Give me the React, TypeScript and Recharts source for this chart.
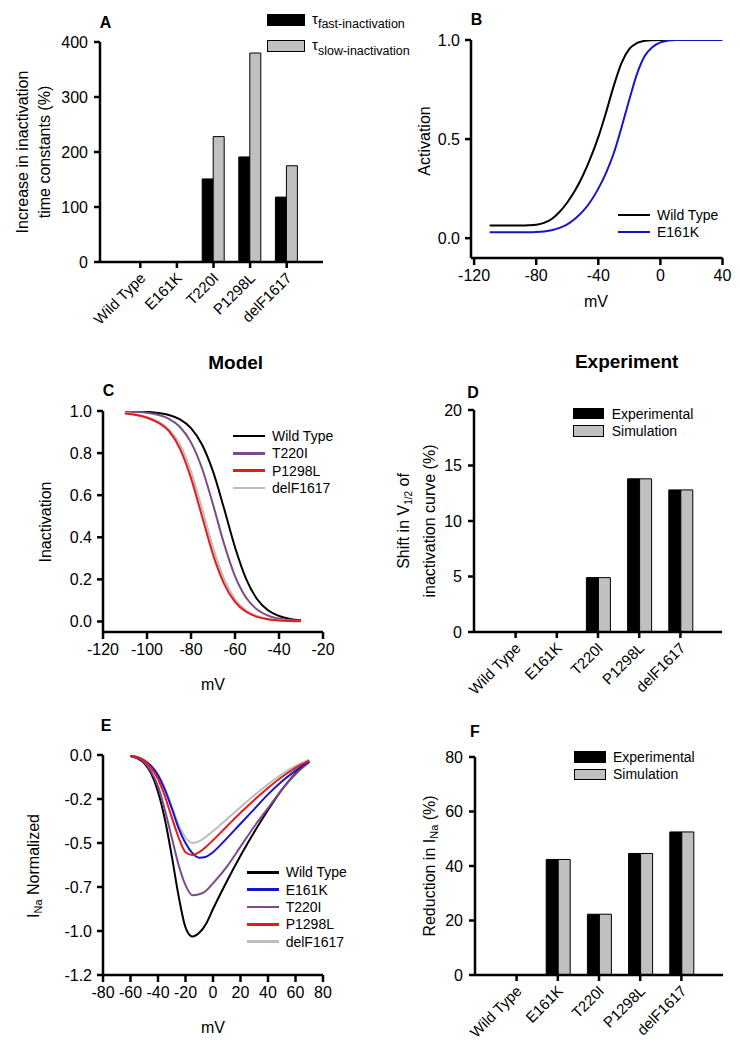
import React from "react";
import { Bar, BarChart, Line, LineChart, XAxis, YAxis } from "recharts";

const FONT = '"Liberation Sans", Arial, Helvetica, sans-serif';

const mutants = ["Wild Type", "E161K", "T220I", "P1298L", "delF1617"];

// A: increase in inactivation time constants (%)
const tauFast = [0, 0, 151, 191, 118];
const tauSlow = [0, 0, 228, 380, 175];
const tauTicks = [0, 100, 200, 300, 400];

// B: activation curves
const actMv = [-110, -105, -100, -95, -90, -85, -80, -75, -70, -65, -60, -55, -50, -45, -40, -35, -30, -25, -20, -15, -10, -5, 0, 5, 10, 15, 20, 25, 30, 35, 40];
const actWt = [0.064, 0.064, 0.064, 0.064, 0.064, 0.065, 0.068, 0.077, 0.097, 0.132, 0.18, 0.24, 0.315, 0.405, 0.51, 0.635, 0.77, 0.885, 0.955, 0.985, 0.996, 0.999, 1, 1, 1, 1, 1, 1, 1, 1, 1];
const actE161k = [0.03, 0.03, 0.03, 0.03, 0.03, 0.03, 0.031, 0.034, 0.04, 0.052, 0.07, 0.098, 0.135, 0.185, 0.25, 0.33, 0.43, 0.56, 0.7, 0.83, 0.92, 0.965, 0.988, 0.997, 1, 1, 1, 1, 1, 1, 1];
const actXTicks = [-120, -80, -40, 0, 40];
const actYTicks = [0, 0.5, 1];

// C: steady-state inactivation (model)
const inactMv = [-110, -105, -100, -95, -90, -85, -80, -75, -70, -65, -60, -55, -50, -45, -40, -35, -30];
const inactWt = [0.999, 0.998, 0.996, 0.991, 0.981, 0.96, 0.919, 0.841, 0.713, 0.538, 0.353, 0.204, 0.107, 0.053, 0.026, 0.012, 0.006];
const inactT220i = [0.998, 0.996, 0.992, 0.982, 0.963, 0.924, 0.851, 0.728, 0.556, 0.37, 0.216, 0.114, 0.057, 0.028, 0.013, 0.006, 0.003];
const inactP1298l = [0.988, 0.981, 0.968, 0.945, 0.904, 0.82, 0.681, 0.5, 0.319, 0.18, 0.093, 0.046, 0.022, 0.011, 0.005, 0.002, 0.001];
const inactDelf = [0.99, 0.984, 0.972, 0.951, 0.912, 0.841, 0.713, 0.538, 0.353, 0.204, 0.107, 0.053, 0.026, 0.012, 0.006, 0.003, 0.002];
const inactXTicks = [-120, -100, -80, -60, -40, -20];
const inactYTicks = [0, 0.2, 0.4, 0.6, 0.8, 1];

// D: shift in V1/2 of inactivation (%)
const shiftExp = [0, 0, 4.9, 13.8, 12.8];
const shiftSim = [0, 0, 4.9, 13.8, 12.8];
const shiftTicks = [0, 5, 10, 15, 20];

// E: normalized I-V curves
const inaMv = [-60, -55, -50, -45, -40, -35, -30, -25, -20, -15, -10, -5, 0, 10, 20, 30, 40, 50, 60, 70];
const inaWt = [-0.005, -0.018, -0.045, -0.1, -0.2, -0.35, -0.55, -0.77, -0.94, -0.99, -0.97, -0.92, -0.84, -0.69, -0.55, -0.42, -0.3, -0.19, -0.1, -0.035];
const inaE161k = [-0.005, -0.012, -0.03, -0.06, -0.11, -0.19, -0.29, -0.4, -0.48, -0.535, -0.56, -0.555, -0.53, -0.455, -0.375, -0.295, -0.215, -0.145, -0.085, -0.035];
const inaT220i = [-0.005, -0.015, -0.04, -0.09, -0.17, -0.3, -0.45, -0.6, -0.71, -0.765, -0.76, -0.74, -0.7, -0.61, -0.5, -0.39, -0.29, -0.19, -0.105, -0.04];
const inaP1298l = [-0.005, -0.013, -0.032, -0.07, -0.13, -0.225, -0.34, -0.45, -0.53, -0.545, -0.53, -0.5, -0.465, -0.39, -0.315, -0.245, -0.18, -0.12, -0.07, -0.03];
const inaDelf = [-0.004, -0.01, -0.027, -0.058, -0.105, -0.18, -0.28, -0.38, -0.45, -0.48, -0.47, -0.445, -0.415, -0.35, -0.285, -0.22, -0.16, -0.105, -0.06, -0.025];
const inaXTicks = [-80, -60, -40, -20, 0, 20, 40, 60, 80];
const inaYTicks = [0, -0.24, -0.48, -0.72, -0.96, -1.2];

// F: reduction in INa (%)
const redExp = [0, 42.4, 22.3, 44.6, 52.5];
const redSim = [0, 42.4, 22.3, 44.6, 52.5];
const redTicks = [0, 20, 40, 60, 80];

const BLACK = "#000000";
const GREY = "#c0c0c0";
const PURPLE = "#7b4a8c";
const BLUE = "#1616c8";
const RED = "#e21b1b";
const LGREY = "#bdbdbd";

const axisLine = { stroke: "#000", strokeWidth: 2.5 };
const tickStyle = { fill: "#000", fontSize: 16, fontFamily: FONT };

type Box = { x0: number; x1: number; y0: number; y1: number };
const YW = 60;
const RM = 24;

function place(b: Box, xh: number) {
  return {
    left: b.x0 - YW,
    top: b.y0 - 10,
    width: b.x1 - b.x0 + YW + RM,
    height: b.y1 - b.y0 + 10 + xh,
  };
}

function SlantTick(props: any) {
  const { x, y, payload } = props;
  const tx = x + 6;
  const ty = y + 9;
  return (
    <text x={tx} y={ty} transform={`rotate(-45, ${tx}, ${ty})`} textAnchor="end" fontSize={15} fontFamily={FONT} fill="#000">
      {payload.value}
    </text>
  );
}

type BarPanelProps = {
  box: Box;
  first: number[];
  second: number[];
  ticks: number[];
  pad: { left: number; right: number };
  barSize: number;
};

function BarPanel({ box, first, second, ticks, pad, barSize }: BarPanelProps) {
  const p = place(box, 70);
  const data = mutants.map((name, i) => ({ name, a: first[i], b: second[i] }));
  return (
    <div style={{ position: "absolute", left: p.left, top: p.top }}>
      <BarChart width={p.width} height={p.height} data={data} margin={{ top: 10, right: RM, left: 0, bottom: 0 }} barGap={0}>
        <XAxis dataKey="name" height={70} padding={pad} interval={0} axisLine={axisLine} tickLine={axisLine} tickSize={6} tickMargin={2} tick={<SlantTick />} />
        <YAxis width={YW} domain={[ticks[0], ticks[ticks.length - 1]]} ticks={ticks} interval={0} axisLine={axisLine} tickLine={axisLine} tickSize={6} tickMargin={6} tick={tickStyle} />
        <Bar dataKey="a" fill={BLACK} stroke="#000" strokeWidth={1} barSize={barSize} isAnimationActive={false} />
        <Bar dataKey="b" fill={GREY} stroke="#000" strokeWidth={1} barSize={barSize} isAnimationActive={false} />
      </BarChart>
    </div>
  );
}

type Series = { key: string; color: string; values: number[] };
type LinePanelProps = {
  box: Box;
  mv: number[];
  series: Series[];
  xDomain: [number, number];
  xTicks: number[];
  yDomain: [number, number];
  yTicks: number[];
};

function LinePanel({ box, mv, series, xDomain, xTicks, yDomain, yTicks }: LinePanelProps) {
  const p = place(box, 40);
  const data = mv.map((v, i) => {
    const row: Record<string, number> = { mv: v };
    series.forEach((s) => (row[s.key] = s.values[i]));
    return row;
  });
  return (
    <div style={{ position: "absolute", left: p.left, top: p.top }}>
      <LineChart width={p.width} height={p.height} data={data} margin={{ top: 10, right: RM, left: 0, bottom: 0 }}>
        <XAxis dataKey="mv" type="number" height={40} domain={xDomain} ticks={xTicks} interval={0} allowDataOverflow axisLine={axisLine} tickLine={axisLine} tickSize={7} tickMargin={5} tick={tickStyle} />
        <YAxis width={YW} type="number" domain={yDomain} ticks={yTicks} interval={0} allowDataOverflow axisLine={axisLine} tickLine={axisLine} tickSize={6} tickMargin={5} tick={tickStyle} tickFormatter={(v: number) => v.toFixed(1)} />
        {series.map((s) => (
          <Line key={s.key} dataKey={s.key} type="monotone" stroke={s.color} strokeWidth={2} dot={false} activeDot={false} isAnimationActive={false} />
        ))}
      </LineChart>
    </div>
  );
}

function Txt({ x, y, size = 16, bold = false, children }: { x: number; y: number; size?: number; bold?: boolean; children: React.ReactNode }) {
  return (
    <div style={{ position: "absolute", left: x, top: y, transform: "translate(-50%, -50%)", fontSize: size, fontWeight: bold ? 700 : 400, lineHeight: 1, whiteSpace: "nowrap" }}>
      {children}
    </div>
  );
}

function VLabel({ x, y, lh = 18, children }: { x: number; y: number; lh?: number; children: React.ReactNode }) {
  return (
    <div style={{ position: "absolute", left: x, top: y, transform: "translate(-50%, -50%) rotate(-90deg)", fontSize: 16, lineHeight: `${lh}px`, whiteSpace: "nowrap", textAlign: "center" }}>
      {children}
    </div>
  );
}

function Sub({ children, size = "0.68em", top = "0.35em" }: { children: React.ReactNode; size?: string; top?: string }) {
  return <span style={{ fontSize: size, position: "relative", top }}>{children}</span>;
}

function LegendLines({ x, y0, step, items }: { x: number; y0: number; step: number; items: { label: string; color: string }[] }) {
  return (
    <>
      {items.map((it, i) => (
        <React.Fragment key={it.label}>
          <div style={{ position: "absolute", left: x, top: y0 + i * step - 1.25, width: 32, height: 2.5, background: it.color }} />
          <div style={{ position: "absolute", left: x + 39, top: y0 + i * step, transform: "translateY(-50%)", fontSize: 14, lineHeight: 1, whiteSpace: "nowrap" }}>{it.label}</div>
        </React.Fragment>
      ))}
    </>
  );
}

function LegendBoxes({ x, y0, step, items }: { x: number; y0: number; step: number; items: { label: string; color: string }[] }) {
  return (
    <>
      {items.map((it, i) => (
        <React.Fragment key={it.label}>
          <div style={{ position: "absolute", left: x, top: y0 + i * step - 5.8, width: 31.5, height: 11.6, background: it.color, border: "1px solid #000", boxSizing: "border-box" }} />
          <div style={{ position: "absolute", left: x + 39, top: y0 + i * step, transform: "translateY(-50%)", fontSize: 14, lineHeight: 1, whiteSpace: "nowrap" }}>{it.label}</div>
        </React.Fragment>
      ))}
    </>
  );
}

export default function App() {
  return (
    <div style={{ position: "absolute", left: 0, top: 0, width: 740, height: 1049, background: "#fff", fontFamily: FONT, color: "#000", overflow: "hidden" }}>
      {/* A */}
      <BarPanel box={{ x0: 100, x1: 323, y0: 42, y1: 262 }} first={tauFast} second={tauSlow} ticks={tauTicks} pad={{ left: 22, right: 18 }} barSize={11} />
      <Txt x={105.5} y={22.5} bold>A</Txt>
      <VLabel x={33.5} y={152} lh={22}>
        Increase in inactivation
        <br />
        time constants (%)
      </VLabel>
      <div style={{ position: "absolute", left: 267, top: 14, width: 38, height: 11.5, background: BLACK, border: "1px solid #000", boxSizing: "border-box" }} />
      <div style={{ position: "absolute", left: 267, top: 40, width: 38, height: 11.5, background: GREY, border: "1px solid #000", boxSizing: "border-box" }} />
      <div style={{ position: "absolute", left: 312, top: 10.6, fontSize: 15, lineHeight: "15px", whiteSpace: "nowrap" }}>
        τ<Sub size="12.5px" top="4.4px">fast-inactivation</Sub>
      </div>
      <div style={{ position: "absolute", left: 312, top: 37.3, fontSize: 15, lineHeight: "15px", whiteSpace: "nowrap" }}>
        τ<Sub size="12.5px" top="4.4px">slow-inactivation</Sub>
      </div>

      {/* B */}
      <LinePanel
        box={{ x0: 470.5, x1: 722, y0: 40, y1: 258 }}
        mv={actMv}
        series={[
          { key: "wt", color: BLACK, values: actWt },
          { key: "e161k", color: BLUE, values: actE161k },
        ]}
        xDomain={[-122, 40]}
        xTicks={actXTicks}
        yDomain={[-0.1, 1]}
        yTicks={actYTicks}
      />
      <Txt x={476.5} y={19.5} bold>B</Txt>
      <VLabel x={424.5} y={141}>Activation</VLabel>
      <Txt x={596} y={302}>mV</Txt>
      <LegendLines x={618} y0={215} step={17} items={[{ label: "Wild Type", color: BLACK }, { label: "E161K", color: BLUE }]} />

      {/* titles */}
      <Txt x={235.7} y={361.7} size={19} bold>Model</Txt>
      <Txt x={626.7} y={360.5} size={19} bold>Experiment</Txt>

      {/* C */}
      <LinePanel
        box={{ x0: 103, x1: 323, y0: 411, y1: 632 }}
        mv={inactMv}
        series={[
          { key: "wt", color: BLACK, values: inactWt },
          { key: "t220i", color: PURPLE, values: inactT220i },
          { key: "delf", color: LGREY, values: inactDelf },
          { key: "p1298l", color: RED, values: inactP1298l },
        ]}
        xDomain={[-120, -20]}
        xTicks={inactXTicks}
        yDomain={[-0.05, 1]}
        yTicks={inactYTicks}
      />
      <Txt x={108.5} y={390.5} bold>C</Txt>
      <VLabel x={46} y={521.5}>Inactivation</VLabel>
      <Txt x={213} y={685}>mV</Txt>
      <LegendLines
        x={233}
        y0={436}
        step={17.3}
        items={[
          { label: "Wild Type", color: BLACK },
          { label: "T220I", color: PURPLE },
          { label: "P1298L", color: RED },
          { label: "delF1617", color: LGREY },
        ]}
      />

      {/* D */}
      <BarPanel box={{ x0: 474, x1: 722, y0: 410, y1: 632 }} first={shiftExp} second={shiftSim} ticks={shiftTicks} pad={{ left: 21, right: 21 }} barSize={12} />
      <Txt x={473} y={392.5} bold>D</Txt>
      <VLabel x={416.5} y={521} lh={24}>
        Shift in V<Sub size="10px" top="3px">1/2</Sub> of
        <br />
        inactivation curve (%)
      </VLabel>
      <LegendBoxes x={572.7} y0={413.5} step={17.5} items={[{ label: "Experimental", color: BLACK }, { label: "Simulation", color: GREY }]} />

      {/* E */}
      <LinePanel
        box={{ x0: 103, x1: 323, y0: 755, y1: 975 }}
        mv={inaMv}
        series={[
          { key: "wt", color: BLACK, values: inaWt },
          { key: "t220i", color: PURPLE, values: inaT220i },
          { key: "delf", color: LGREY, values: inaDelf },
          { key: "e161k", color: BLUE, values: inaE161k },
          { key: "p1298l", color: RED, values: inaP1298l },
        ]}
        xDomain={[-80, 80]}
        xTicks={inaXTicks}
        yDomain={[-1.2, 0]}
        yTicks={inaYTicks}
      />
      <Txt x={106} y={726} bold>E</Txt>
      <VLabel x={34.3} y={866}>
        I<Sub size="11px" top="3px">Na</Sub> Normalized
      </VLabel>
      <Txt x={213} y={1028}>mV</Txt>
      <LegendLines
        x={246.7}
        y0={872.3}
        step={17.35}
        items={[
          { label: "Wild Type", color: BLACK },
          { label: "E161K", color: BLUE },
          { label: "T220I", color: PURPLE },
          { label: "P1298L", color: RED },
          { label: "delF1617", color: LGREY },
        ]}
      />

      {/* F */}
      <BarPanel box={{ x0: 475, x1: 723, y0: 757, y1: 975 }} first={redExp} second={redSim} ticks={redTicks} pad={{ left: 21, right: 21 }} barSize={12} />
      <Txt x={475} y={731.5} bold>F</Txt>
      <VLabel x={429.5} y={866}>
        Reduction in I<Sub size="11px" top="3px">Na</Sub> (%)
      </VLabel>
      <LegendBoxes x={574} y0={757} step={17.3} items={[{ label: "Experimental", color: BLACK }, { label: "Simulation", color: GREY }]} />
    </div>
  );
}
